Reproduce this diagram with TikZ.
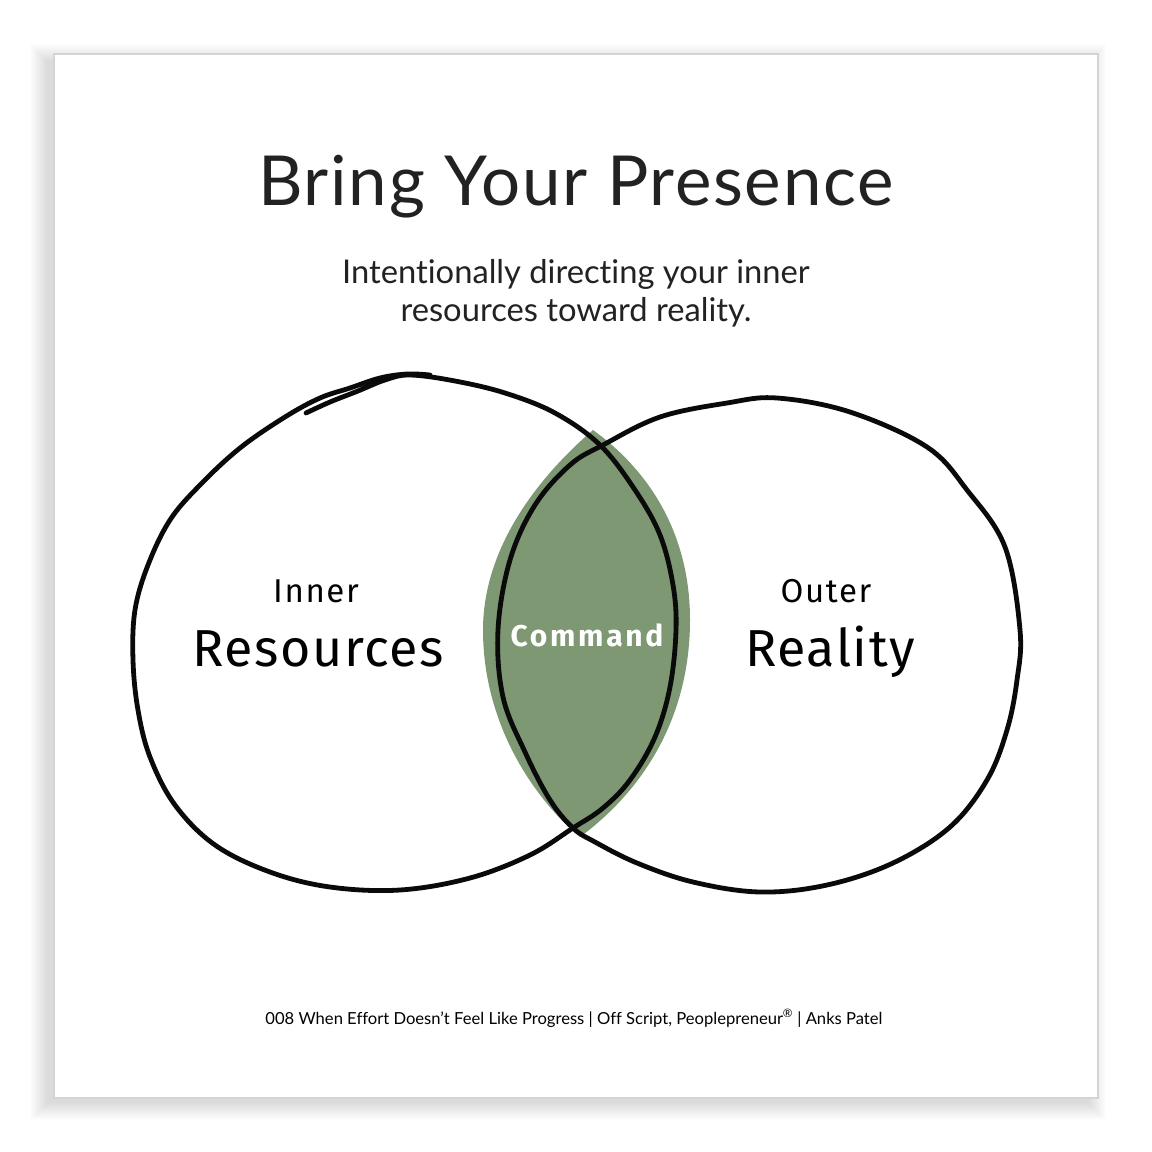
\documentclass[tikz,border=0pt]{standalone}
\usepackage{xcolor}
\usepackage{tikz}
\usepackage{fontspec}
\setmainfont{Lato}[Ligatures=NoCommon]
\newfontfamily\titlefont{Lato}[Ligatures=NoCommon, LetterSpace=2.5]
\newfontfamily\labelfont{Fira Sans}[LetterSpace=3.0]
\newfontfamily\smalllabelfont{Fira Sans}[LetterSpace=5.0]
\newfontfamily\cmdfont{Fira Sans Bold}[LetterSpace=9.0]
\usetikzlibrary{positioning}
\definecolor{sagegreen}{HTML}{7D9872}
\definecolor{inkblack}{HTML}{0A0A0A}
\definecolor{titlegray}{HTML}{222222}
\definecolor{cardedge}{HTML}{D4D4D4}
\tikzstyle{sketch} = [line width=4.8pt, color=inkblack, line cap=round, line join=round]
\tikzstyle{heading} = [anchor=base, text=titlegray, inner sep=0pt]
\tikzstyle{setlabel} = [anchor=base, text=black, inner sep=0pt]

\begin{document}
\begin{tikzpicture}[x=1pt, y=-1pt]
    \useasboundingbox (0,0) rectangle (1152,1152);
    \fill[white] (0,0) rectangle (1152,1152);
    % card with soft shadow
    \foreach \s in {1,...,18}
        \fill[black, opacity=0.007] ({48-\s},{62-\s}) rectangle ({1088+\s},{1102+\s});
    \draw[cardedge, fill=white, line width=1.2pt] (54,54) rectangle (1098,1098);

    \node[heading, font=\titlefont\fontsize{69}{72}\selectfont] (title) at (576,205) {Bring Your Presence};
    \node[heading, font=\fontsize{32.7}{40}\selectfont] (sub1) at (576,283) {Intentionally directing your inner};
    \node[heading, font=\fontsize{32.7}{40}\selectfont] (sub2) at (576,321) {resources toward reality.};

    % shared area
    \fill[sagegreen] (593,430) .. controls (535,480) and (483,550) .. (483,630)
        .. controls (483,720) and (530,795) .. (580,837)
        .. controls (650,785) and (690,710) .. (690,620)
        .. controls (690,540) and (655,475) .. (593,430) -- cycle;

    % left circle, drawn by hand
    \draw[sketch] plot[smooth, tension=0.6] coordinates {(306,413) (330,402) (358,391) (385,380) (410,375) (455,381) (505,393) (555,413) (600,445) (635,490) (660,535) (673,585) (676,630) (670,687) (655,737) (630,780) (603,808) (573,828) (530,855) (470,878) (400,890) (330,887) (270,872) (215,845) (175,805) (150,757) (138,710) (133,660) (135,610) (148,565) (170,520) (200,485) (240,448) (285,417) (320,398) (350,388) (380,378) (407,374) (430,375)};
    % right circle
    \draw[sketch] plot[smooth cycle, tension=0.6] coordinates {(660,417) (727,403) (777,398) (850,412) (927,447) (967,490) (1005,547) (1020,630) (1017,680) (1007,730) (987,780) (950,827) (893,863) (827,885) (760,892) (693,882) (637,863) (595,842) (573,828) (550,800) (525,752) (503,697) (498,630) (510,560) (535,505) (570,465) (603,445)};

    \node[setlabel, font=\smalllabelfont\fontsize{33}{36}\selectfont] (inner) at (316,602) {Inner};
    \node[setlabel, font=\labelfont\fontsize{52}{60}\selectfont] (resources) at (318,666) {Resources};
    \node[setlabel, font=\smalllabelfont\fontsize{33}{36}\selectfont] (outer) at (826,602) {Outer};
    \node[setlabel, font=\labelfont\fontsize{52}{60}\selectfont] (reality) at (830,666) {Reality};
    \node[setlabel, text=white, font=\cmdfont\fontsize{30}{34}\selectfont] (command) at (587,646) {Command};

    \node[heading, text=black, font=\fontsize{16.6}{20}\selectfont] (footer) at (574,1024) {008 When Effort Doesn’t Feel Like Progress | Off Script, Peoplepreneur\textsuperscript{®} | Anks Patel};
\end{tikzpicture}
\end{document}
